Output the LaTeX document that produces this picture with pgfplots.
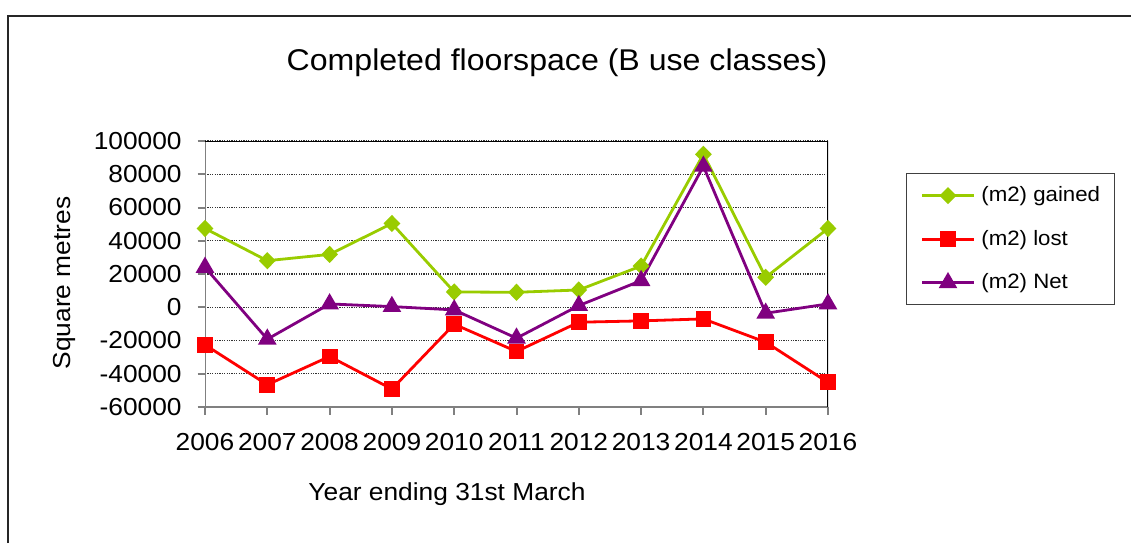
\documentclass[border=0pt]{standalone}
\usepackage{fontspec}
\setmainfont{Liberation Sans}[FakeStretch=1.07]
\usepackage{pgfplots}
\pgfplotsset{compat=1.18}
\definecolor{cgain}{HTML}{99CC00}
\definecolor{clost}{HTML}{FF0000}
\definecolor{cnet}{HTML}{800080}
\begin{document}
\begin{tikzpicture}
\path[use as bounding box] (0,0) rectangle (565.5pt,271.5pt);
\draw[black!85, line width=0.7pt] (4pt,0) -- (4pt,263.5pt) -- (565.5pt,263.5pt);
\node[font=\fontsize{15}{18}\selectfont] at (278.5pt,240pt) {Completed floorspace (B use classes)};
\node[font=\fontsize{12.3}{15}\selectfont, rotate=90] at (32pt,130pt) {Square metres};
\node[font=\fontsize{12.3}{15}\selectfont] at (223.5pt,24.5pt) {Year ending 31st March};
\begin{axis}[
  at={(102.5pt,68pt)}, anchor=south west,
  scale only axis, width=311.5pt, height=133pt,
  xmin=2006, xmax=2016, ymin=-60000, ymax=100000,
  xtick={2006,2007,2008,2009,2010,2011,2012,2013,2014,2015,2016},
  xticklabels={2006,2007,2008,2009,2010,2011,2012,2013,2014,2015,2016},
  ytick={-60000,-40000,-20000,0,20000,40000,60000,80000,100000},
  yticklabels={-60000,-40000,-20000,0,20000,40000,60000,80000,100000},
  scaled ticks=false,
  tick label style={font=\fontsize{12.3}{15}\selectfont, inner sep=0pt},
  yticklabel style={xshift=-7.75pt},
  xticklabel style={yshift=-9pt},
  tick pos=left,
  tick align=outside,
  major tick length=3.75pt,
  tick style={gray, line width=1pt},
  axis line style={draw=none},
  ymajorgrids,
  major grid style={black!80, line width=0.6pt, dash pattern=on 0.6pt off 0.6pt},
  legend style={at={(1.1252,0.8797)}, anchor=north west, draw=black!75, line width=0.6pt,
    font=\fontsize{10.4}{12}\selectfont, inner xsep=7pt, inner ysep=6.5pt, row sep=12.75pt,
    column sep=3pt, nodes={inner sep=0pt}},
  legend cell align=left,
  legend image code/.code={\draw[mark repeat=2,mark phase=2,#1] plot coordinates {(0pt,0pt)(13pt,0pt)(26pt,0pt)};},
]
\addplot[cgain, line width=1.4pt, mark=diamond*, mark size=3.3pt, mark options={xscale=1.3}] coordinates {
(2006,47400)(2007,28000)(2008,31800)(2009,50400)(2010,9200)(2011,9000)
(2012,10400)(2013,24800)(2014,92000)(2015,18000)(2016,47400)};
\addlegendentry{(m2) gained}
\addplot[clost, line width=1.4pt, mark=square*, mark size=3.25pt] coordinates {
(2006,-22600)(2007,-46600)(2008,-29600)(2009,-49200)(2010,-10200)(2011,-26600)
(2012,-9000)(2013,-8200)(2014,-7000)(2015,-21000)(2016,-45200)};
\addlegendentry{(m2) lost}
\addplot[cnet, line width=1.4pt, mark=triangle*, mark size=4pt] coordinates {
(2006,24000)(2007,-19200)(2008,2000)(2009,400)(2010,-1600)(2011,-18600)
(2012,1000)(2013,16000)(2014,84800)(2015,-3600)(2016,2000)};
\addlegendentry{(m2) Net}
\draw[gray, line width=1pt] (rel axis cs:0,1) -- (rel axis cs:0,0) -- (rel axis cs:1,0);
\draw[black, line width=1.2pt] (rel axis cs:0,1) -- (rel axis cs:1,1) -- (rel axis cs:1,0);
\end{axis}
\end{tikzpicture}
\end{document}
